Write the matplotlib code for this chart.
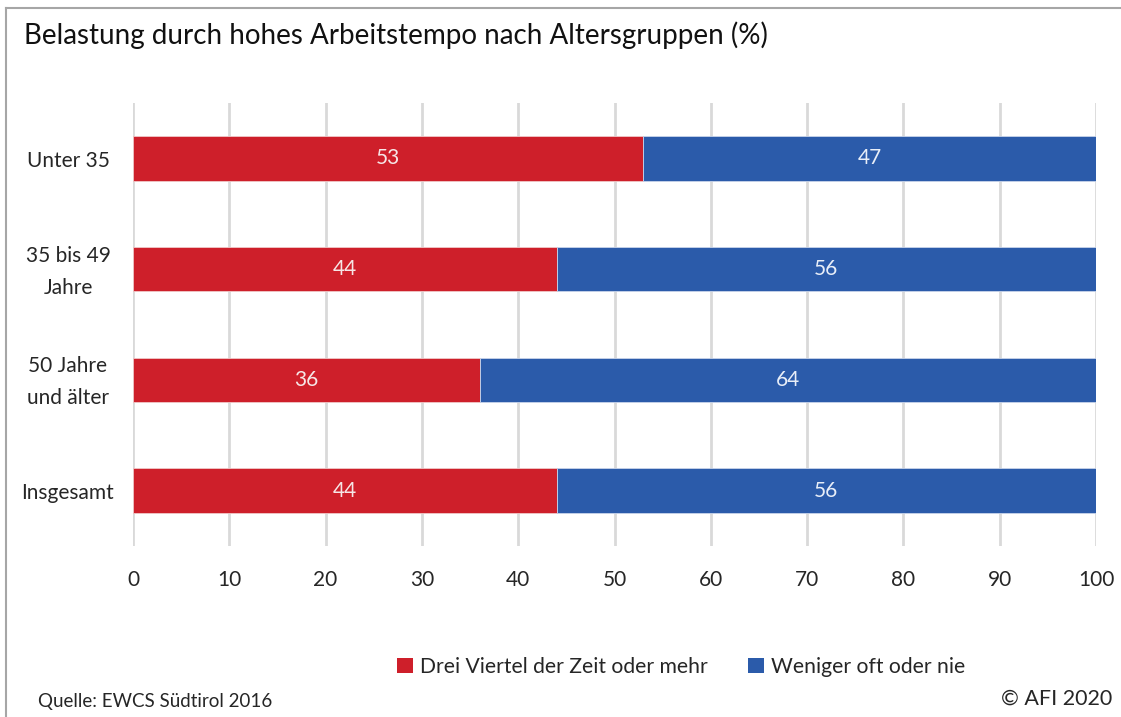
import matplotlib
matplotlib.use("Agg")
import matplotlib.pyplot as plt
import matplotlib.transforms as mtransforms
from matplotlib.patches import Patch
from matplotlib.lines import Line2D

categories = ["Unter 35", "35 bis 49\nJahre", "50 Jahre\nund älter", "Insgesamt"]
oft = [53, 44, 36, 44]
selten = [47, 56, 64, 56]
series_names = ["Drei Viertel der Zeit oder mehr", "Weniger oft oder nie"]
xticks = [0, 10, 20, 30, 40, 50, 60, 70, 80, 90, 100]

RED = "#CE1F2A"
BLUE = "#2B5BAA"
TXT = "#262626"

plt.rcParams['font.family'] = ['Lato', 'DejaVu Sans']

fig = plt.figure(figsize=(11.21, 7.17), dpi=100)
ax = fig.add_axes([133/1121, 1 - 546/717, (1096-133)/1121, (546-103)/717])

y = list(range(len(categories)))
ax.barh(y, oft, height=0.4, color=RED, edgecolor="#f0c8c8", linewidth=0.6, zorder=3)
ax.barh(y, selten, left=oft, height=0.4, color=BLUE, edgecolor="#c8d4ea", linewidth=0.6, zorder=3)

for i in y:
    ax.text(oft[i] / 2, i, str(oft[i]), color="#f6e6e6", ha="center", va="center", fontsize=15, zorder=4)
    ax.text(oft[i] + selten[i] / 2, i, str(selten[i]), color="#e8eef8", ha="center", va="center", fontsize=15, zorder=4)

ax.set_ylim(len(categories) - 0.5, -0.5)
ax.set_xlim(0, 100)
ax.set_yticks(y)
ax.set_yticklabels(categories, fontsize=15, color=TXT, linespacing=1.75, multialignment="center")
ax.set_xticks(xticks)
ax.set_xticklabels([str(t) for t in xticks], fontsize=15, color=TXT)
ax.tick_params(axis="x", length=0, pad=17)
ax.tick_params(axis="y", length=0, pad=0)
shift = mtransforms.ScaledTranslation(0, -2.5 / 100, fig.dpi_scale_trans)
for lab in ax.get_yticklabels():
    lab.set_horizontalalignment("center")
    lab.set_verticalalignment("center")
    lab.set_x(-0.0675)
    lab.set_transform(lab.get_transform() + shift)
for s in ax.spines.values():
    s.set_visible(False)
ax.grid(axis="x", color="#d9d9d9", linewidth=2, zorder=0)
ax.set_axisbelow(True)

fig.text(24/1121, 1 - 35/717, "Belastung durch hohes Arbeitstempo nach Altersgruppen (%)",
         fontsize=20, color="#111111", ha="left", va="center")

handles = [Patch(facecolor=RED, label=series_names[0]), Patch(facecolor=BLUE, label=series_names[1])]
fig.legend(handles=handles, loc="center", bbox_to_anchor=(681/1121, 1 - 667/717), ncol=2,
           frameon=False, fontsize=15.2, handlelength=0.75, handleheight=0.75, handletextpad=0.35,
           columnspacing=1.9, labelcolor=TXT)

fig.text(38/1121, 1 - 702/717, "Quelle: EWCS Südtirol 2016", fontsize=13.5, color=TXT, ha="left", va="center")
fig.text(1112/1121, 1 - 699/717, "© AFI 2020", fontsize=15.5, color=TXT, ha="right", va="center")

fig.add_artist(Line2D([6/1121, 1], [1 - 8/717, 1 - 8/717], color="#a6a6a6", linewidth=1.5))
fig.add_artist(Line2D([6/1121, 6/1121], [0, 1 - 8/717], color="#a6a6a6", linewidth=1.5))

fig.savefig("out.png", dpi=100)
